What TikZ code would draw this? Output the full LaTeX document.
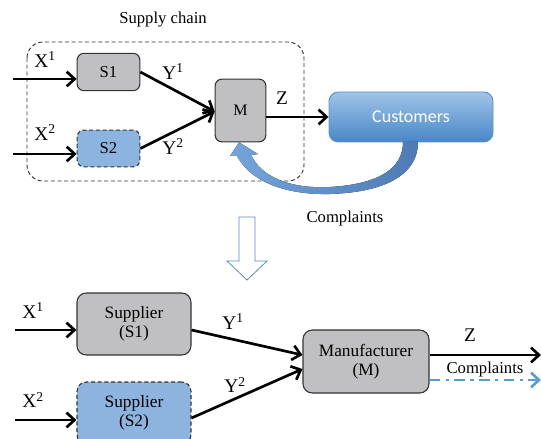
\documentclass[tikz,border=0pt]{standalone}
\usepackage{fontspec}
\setmainfont{Liberation Serif}
\newfontfamily\calibri{Carlito}
\usetikzlibrary{arrows.meta,calc}
\definecolor{boxgray}{RGB}{192,192,194}
\definecolor{boxblue}{RGB}{141,180,222}
\definecolor{custtop}{RGB}{160,196,232}
\definecolor{custbot}{RGB}{72,134,200}
\definecolor{custedge}{RGB}{95,145,200}
\definecolor{arrowblue}{RGB}{91,155,213}
\definecolor{hollowedge}{RGB}{95,135,195}
\definecolor{curvelight}{RGB}{115,165,218}
\definecolor{curvedark}{RGB}{78,122,182}
\begin{document}
\begin{tikzpicture}[x=0.75pt,y=-0.75pt,
  flow/.style={line width=2pt,-{Straight Barb[length=6pt,width=11pt]}},
  box/.style={draw=black!80,line width=0.8pt,rounded corners=5pt,fill=boxgray,align=center,inner sep=0pt},
  bluebox/.style={box,fill=boxblue,densely dashed},
  lbl/.style={font=\fontsize{14.5}{16}\selectfont,inner sep=0pt},
  txt/.style={font=\fontsize{12.5}{15}\selectfont,inner sep=0pt},
  big/.style={font=\fontsize{13}{14.5}\selectfont},
  small/.style={font=\fontsize{12.5}{14}\selectfont}
]
\useasboundingbox (0,0) rectangle (541,438);
% supply chain frame
\draw[black!80,line width=0.7pt,dash pattern=on 3pt off 2pt,rounded corners=12pt] (27,42) rectangle (304,181);
\node[txt] (title) at (163,20) {Supply chain};
% top nodes
\node[box,small,minimum width=47pt,minimum height=28pt] (s1) at (108.5,72) {S1};
\node[bluebox,small,minimum width=47pt,minimum height=27.5pt] (s2) at (108.5,148.5) {S2};
\node[box,font=\fontsize{12}{14}\selectfont,minimum width=38pt,minimum height=47pt] (m) at (240.5,110.5) {M};
\node[draw=custedge,line width=0.7pt,rounded corners=7pt,top color=custtop,bottom color=custbot,
  minimum width=123pt,minimum height=37.5pt,font=\calibri\fontsize{13.5}{15}\selectfont,text=white] (cust) at (411,117) {Customers};
% top connectors
\coordinate (x1s) at (13,79);
\coordinate (x2s) at (13,154);
\draw[flow] (x1s) -- (x1s -| s1.west);
\draw[flow] (x2s) -- (x2s -| s2.west);
\draw[flow] ($(s1.east)+(0,0)$) -- ($(m.west)+(0,1)$);
\draw[flow] ($(s2.east)+(0,0)$) -- ($(m.west)+(0,1)$);
\draw[flow] (m.east |- cust.west) -- (cust.west);
\node[lbl] at (45,60) {X\textsuperscript{1}};
\node[lbl] at (45,133) {X\textsuperscript{2}};
\node[lbl] at (173,72) {Y\textsuperscript{1}};
\node[lbl] at (173,147) {Y\textsuperscript{2}};
\node[lbl] at (282,98) {Z};
% curved complaints arrow
\fill[left color=curvelight,right color=curvedark]
  (403,142) .. controls (403,168) and (380,184) .. (330,187)
  .. controls (292,189) and (262,178) .. (251,155)
  -- (258,154) -- ($(m.south)+(-1.5,0)$) -- (230,156) -- (237,156)
  .. controls (252,184) and (290,195) .. (330,194)
  .. controls (390,192) and (418,172) .. (418,142) -- cycle;
\node[txt] (compl) at (345,218) {Complaints};
% hollow down arrow
\draw[hollowedge,line width=0.6pt,fill=white]
  (239,217) -- (255,217) -- (255,261) -- (267,261) -- (247,280) -- (227,261) -- (239,261) -- cycle;
% bottom nodes
\node[box,big,minimum width=85.5pt,minimum height=46.5pt,rounded corners=7pt] (sup1) at (134,324) {Supplier\\(S1)};
\node[bluebox,big,minimum width=85.5pt,minimum height=46.5pt,rounded corners=7pt] (sup2) at (134,413) {Supplier\\(S2)};
\node[box,big,minimum width=94.5pt,minimum height=47.25pt,rounded corners=7pt] (man) at (366,361.5) {Manufacturer\\(M)};
\coordinate (bx1) at (15,330);
\coordinate (bx2) at (15,420);
\coordinate (zend) at (541,355);
\coordinate (cend) at (541,380);
\draw[flow] (bx1) -- (bx1 -| sup1.west);
\draw[flow] (bx2) -- (bx2 -| sup2.west);
\draw[flow] ($(sup1.east)+(0,6)$) -- ($(man.west)+(0,-6.5)$);
\draw[flow] ($(sup2.east)+(0,5)$) -- ($(man.west)+(0,7.5)$);
\draw[flow] (man.east |- zend) -- (zend);
\draw[arrowblue,line width=2pt,dash pattern=on 8pt off 4pt on 2.5pt off 4pt,-{Straight Barb[length=6pt,width=11pt]}] (man.east |- cend) -- (cend);
\node[lbl] at (33,311) {X\textsuperscript{1}};
\node[lbl] at (33,400) {X\textsuperscript{2}};
\node[lbl] at (233,322) {Y\textsuperscript{1}};
\node[lbl] at (235,385) {Y\textsuperscript{2}};
\node[lbl] at (470,335) {Z};
\node[txt] at (485,369) {Complaints};
\end{tikzpicture}
\end{document}
